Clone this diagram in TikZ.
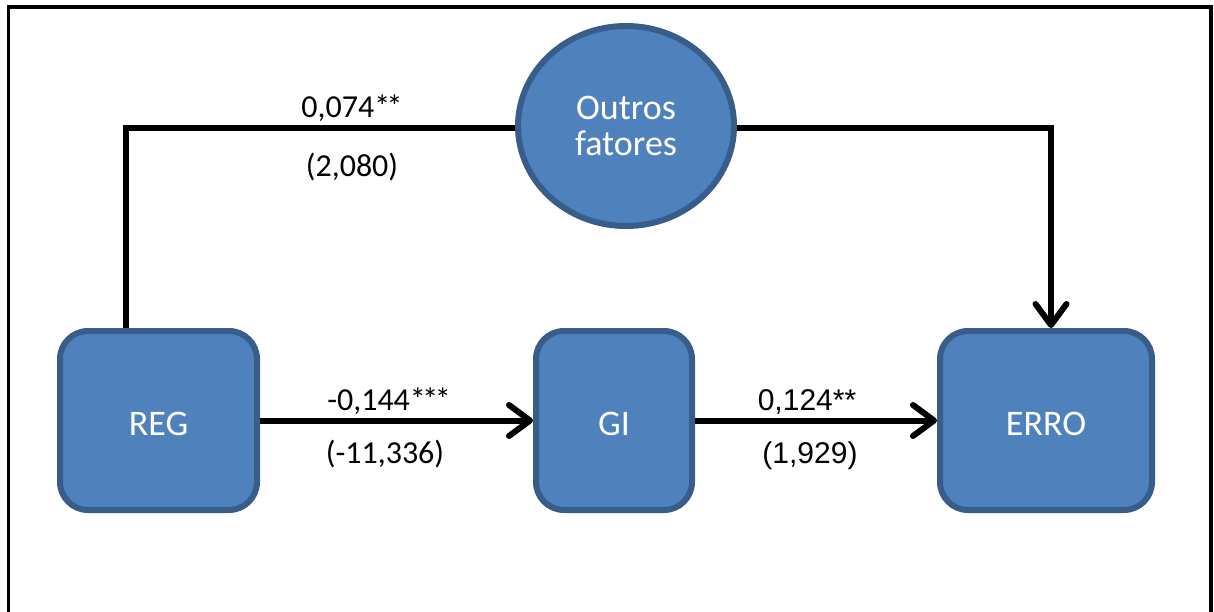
\documentclass[tikz,border=0pt]{standalone}
\usepackage{fontspec}
\setmainfont{Carlito}
\newfontfamily\arialfont{Liberation Sans}
\usetikzlibrary{arrows.meta,shapes.geometric}
\definecolor{boxfill}{HTML}{4F81BD}
\definecolor{boxline}{HTML}{385D8A}
\newcommand{\tightstar}{*\kern-3.5pt}
\tikzset{
  varbox/.style={draw=boxline, fill=boxfill, line width=6pt, rounded corners=28pt,
    minimum height=179pt, inner sep=0pt, text=white, text height=30pt, text depth=0pt,
    font=\fontsize{36}{36}\selectfont},
  varcirc/.style={ellipse, draw=boxline, fill=boxfill, line width=6pt,
    minimum width=216pt, minimum height=200pt, inner sep=0pt, text=white, align=center,
    font=\fontsize{36}{36}\selectfont},
  conn/.style={line width=6pt, black},
  arr/.style={conn, -{Straight Barb[length=21pt,width=31pt,round]}},
  coef/.style={anchor=base, inner sep=0pt, font=\fontsize{32}{32}\selectfont},
  coefar/.style={anchor=base, inner sep=0pt, font=\arialfont\fontsize{30}{30}\selectfont},
}
\begin{document}
\begin{tikzpicture}[x=1pt,y=-1pt]
\useasboundingbox (0,0) rectangle (1214,612);
\draw[line width=3.5pt] (8.5,614) -- (8.5,7) -- (1211,7) -- (1211,614);

\node[varbox, minimum width=197pt] (reg) at (158.5,420.5) {REG};
\node[varbox, minimum width=156pt] (gi) at (614,420.5) {GI};
\node[varbox, minimum width=212pt] (erro) at (1046,420.5) {ERRO};
\node[varcirc] (outros) at (626,126) {Outros\\fatores};

\coordinate (c1) at (126,128);
\coordinate (c2) at (1051,128);
\draw[conn] (reg.north -| c1) -- (c1) -- (outros.west |- c1);
\draw[arr] (outros.east |- c2) -- (c2) -- (erro.north -| c2);
\draw[arr] (reg.east) -- (gi.west);
\draw[arr] (gi.east) -- (erro.west);

\node[coef] (l1) at (352,118) {0,074\tightstar*};
\node[coef] (l2) at (352,177) {(2,080)};
\node[coef] (l3) at (389,410) {-0,144\tightstar\tightstar*};
\node[coef] (l4) at (385,463) {(-11,336)};
\node[coefar] (l5) at (807,410) {0,124**};
\node[coefar] (l6) at (810,463) {(1,929)};
\end{tikzpicture}
\end{document}
